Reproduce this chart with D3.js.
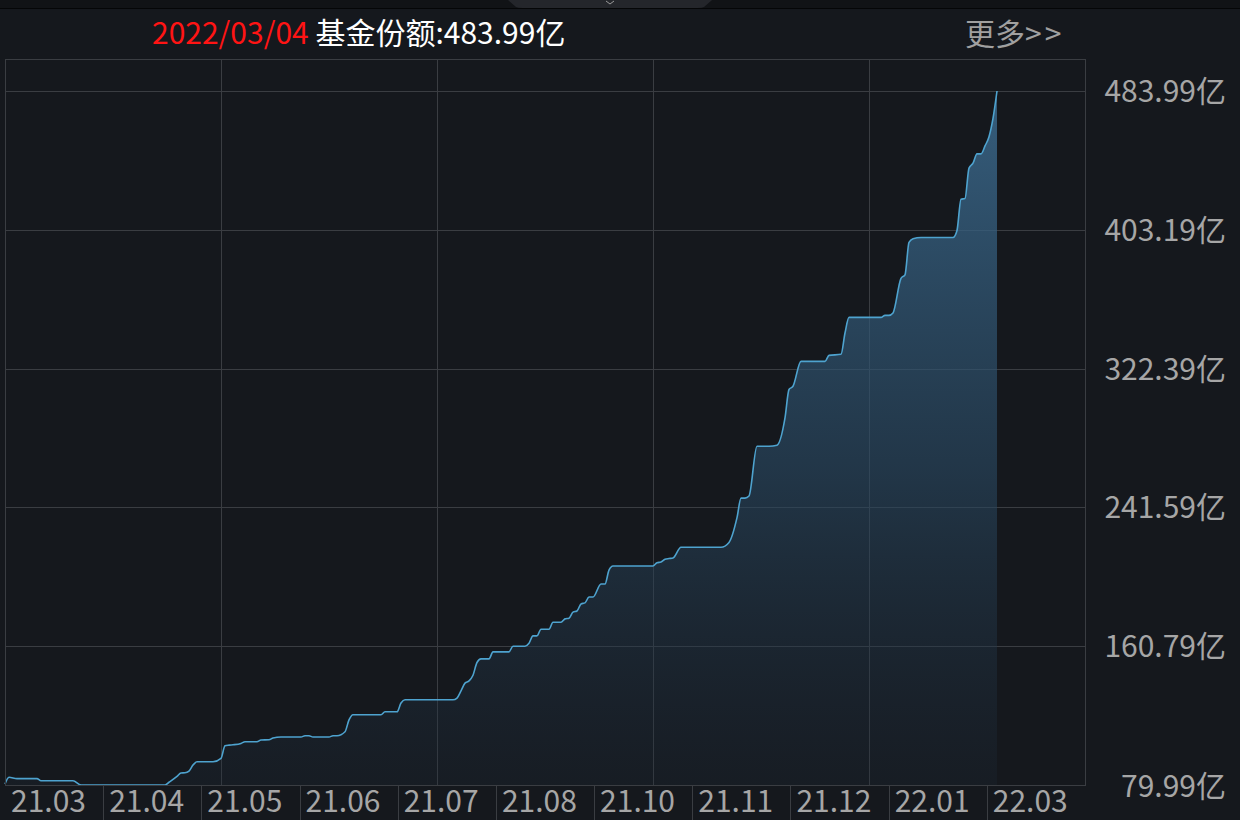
<!DOCTYPE html>
<html>
<head>
<meta charset="utf-8">
<script src="https://cdn.jsdelivr.net/npm/d3@7"></script>
<style>
  html, body { margin: 0; padding: 0; background: #15181d; }
  svg { display: block; font-family: "Noto Sans CJK SC", "Noto Sans", sans-serif; }
</style>
</head>
<body>
<svg width="1240" height="820"></svg>
<script>
// trading day index and fund shares (亿)
const dayIndex = [
  0, 1, 3, 8, 9, 17, 19, 40, 41, 43, 44, 45, 46, 47, 48, 52, 54, 55, 56, 57,
  59, 60, 63, 64, 66, 67, 69, 74, 75, 76, 77, 81, 82, 83, 85, 86, 87, 94, 95, 98,
  99, 100, 112, 113, 114, 115, 116, 117, 118, 119, 121, 122, 126, 127, 130, 131, 132, 133, 134, 136,
  137, 139, 140, 141, 142, 143, 144, 145, 146, 147, 149, 150, 151, 152, 162, 163, 164, 165, 166, 167,
  169, 179, 181, 183, 184, 185, 186, 188, 191, 193, 195, 196, 197, 199, 205, 206, 209, 210, 211, 219,
  220, 221, 222, 224, 225, 226, 227, 229, 237, 238, 239, 240, 241, 242, 243, 244, 245, 246, 247, 248
]
const shares = [
  80.6, 84.5, 83.7, 83.7, 82.5, 82.5, 80.0, 80.0, 81.6, 85.0, 87.0, 87.1, 88.1, 91.6, 93.5, 93.5, 95.5, 102.8, 103.2, 103.4,
  104.2, 105.2, 105.2, 106.2, 106.3, 107.3, 107.9, 107.9, 108.7, 108.7, 107.9, 107.9, 108.7, 108.7, 111.0, 117.9, 120.9, 120.9, 122.6, 122.6,
  127.7, 129.6, 129.6, 130.6, 134.8, 139.3, 140.6, 143.9, 151.3, 153.4, 153.4, 157.5, 157.5, 160.8, 160.8, 162.5, 166.8, 166.8, 170.7, 170.7,
  174.7, 174.7, 176.7, 177.1, 180.6, 181.3, 185.4, 186.0, 189.4, 189.4, 197.0, 197.0, 205.1, 207.5, 207.5, 209.4, 209.8, 211.4, 211.8, 212.1,
  218.4, 218.4, 221.2, 235.6, 247.0, 247.0, 248.2, 277.2, 277.2, 277.8, 293.7, 310.2, 312.1, 326.6, 326.6, 330.1, 330.7, 343.1, 352.2, 352.2,
  353.4, 353.4, 354.8, 374.9, 377.0, 395.8, 398.0, 398.7, 398.7, 402.8, 421.0, 421.4, 439.1, 442.0, 447.4, 447.4, 452.0, 457.4, 468.1, 483.99
]
const xLabels = ["21.03", "21.04", "21.05", "21.06", "21.07", "21.08", "21.10", "21.11", "21.12", "22.01", "22.03"]
const yTicks = [79.99, 160.79, 241.59, 322.39, 403.19, 483.99]
const totalDays = 270

const data = dayIndex.map((d, i) => ({ day: d, value: shares[i] }))

const plotLeft = 5, plotRight = 1085, plotTop = 59, plotBottom = 785

const svg = d3.select("svg")

// top strip
svg.append("rect").attr("x", 0).attr("y", 0).attr("width", 1240).attr("height", 8).attr("fill", "#111316")
svg.append("path")
  .attr("d", "M508,0 L712,0 L704,7 Q702,8 698,8 L522,8 Q518,8 516,7 Z")
  .attr("fill", "#24262b")
svg.append("path")
  .attr("d", "M606,1 L610,4 L614,1")
  .attr("fill", "none").attr("stroke", "#9a9a9a").attr("stroke-width", 1)
svg.append("line").attr("x1", 0).attr("x2", 1240).attr("y1", 8.5).attr("y2", 8.5).attr("stroke", "#050607")

const x = d3.scaleLinear().domain([0, totalDays]).range([plotLeft, plotRight])
const y = d3.scaleLinear().domain([yTicks[0], yTicks[yTicks.length - 1]]).range([plotBottom, 91])

const grid = svg.append("g").attr("stroke", "#3a3d42").attr("shape-rendering", "crispEdges")

grid.selectAll("line.h")
  .data(yTicks.slice(1))
  .enter()
  .append("line")
  .attr("x1", plotLeft).attr("x2", plotRight)
  .attr("y1", d => Math.round(y(d)) + 0.5)
  .attr("y2", d => Math.round(y(d)) + 0.5)

grid.selectAll("line.v")
  .data(d3.range(1, 5))
  .enter()
  .append("line")
  .attr("x1", d => Math.round(plotLeft + d * (plotRight - plotLeft) / 5) + 0.5)
  .attr("x2", d => Math.round(plotLeft + d * (plotRight - plotLeft) / 5) + 0.5)
  .attr("y1", plotTop).attr("y2", plotBottom)

// area gradient
const defs = svg.append("defs")
const grad = defs.append("linearGradient")
  .attr("id", "fill")
  .attr("gradientUnits", "userSpaceOnUse")
  .attr("x1", 0).attr("x2", 0)
  .attr("y1", y(yTicks[yTicks.length - 1])).attr("y2", plotBottom)
grad.append("stop").attr("offset", 0).attr("stop-color", "#3d6d92").attr("stop-opacity", 0.82)
grad.append("stop").attr("offset", 0.55).attr("stop-color", "#2a4a64").attr("stop-opacity", 0.6)
grad.append("stop").attr("offset", 1).attr("stop-color", "#1d2a38").attr("stop-opacity", 0.25)

const area = d3.area()
  .x(d => x(d.day))
  .y0(plotBottom)
  .y1(d => y(d.value))
  .curve(d3.curveMonotoneX)

const line = d3.line()
  .x(d => x(d.day))
  .y(d => y(d.value))
  .curve(d3.curveMonotoneX)

svg.append("path")
  .datum(data)
  .attr("d", area)
  .attr("fill", "url(#fill)")

svg.append("path")
  .datum(data)
  .attr("d", line)
  .attr("fill", "none")
  .attr("stroke", "#4ea3cf")
  .attr("stroke-width", 1.6)

// frame
svg.append("rect")
  .attr("x", plotLeft + 0.5).attr("y", plotTop + 0.5)
  .attr("width", plotRight - plotLeft).attr("height", plotBottom - plotTop)
  .attr("fill", "none").attr("stroke", "#3a3d42")
  .attr("shape-rendering", "crispEdges")

// bottom label cells
const cell = (plotRight - plotLeft) / xLabels.length
const xAxis = svg.append("g")

xAxis.selectAll("line")
  .data(d3.range(1, xLabels.length))
  .enter()
  .append("line")
  .attr("x1", d => Math.round(plotLeft + d * cell) + 0.5)
  .attr("x2", d => Math.round(plotLeft + d * cell) + 0.5)
  .attr("y1", plotBottom).attr("y2", 820)
  .attr("stroke", "#3a3d42")
  .attr("shape-rendering", "crispEdges")

xAxis.selectAll("text")
  .data(xLabels)
  .enter()
  .append("text")
  .attr("x", (d, i) => plotLeft + i * cell + 6)
  .attr("y", 812)
  .attr("fill", "#a6a6a6")
  .attr("font-size", 30)
  .text(d => d)

// y labels
svg.append("g")
  .selectAll("text")
  .data(yTicks)
  .enter()
  .append("text")
  .attr("x", 1226)
  .attr("y", (d, i) => y(d) + (i === 0 ? 12 : 11))
  .attr("text-anchor", "end")
  .attr("fill", "#a6a6a6")
  .attr("font-size", 30)
  .text(d => d.toFixed(2) + "亿")

// header
const last = data[data.length - 1]
const title = svg.append("text")
  .attr("x", 152)
  .attr("y", 44)
  .attr("font-size", 30)
title.append("tspan").attr("fill", "#ff1414").text("2022/03/04")
title.append("tspan").attr("fill", "#ffffff").text(" 基金份额:" + last.value.toFixed(2) + "亿")

const more = svg.append("text")
  .attr("x", 965)
  .attr("y", 45)
  .attr("font-size", 30)
  .attr("fill", "#a0a0a0")
more.append("tspan").text("更多")
more.append("tspan").attr("letter-spacing", 3).text(">>")
</script>
</body>
</html>
